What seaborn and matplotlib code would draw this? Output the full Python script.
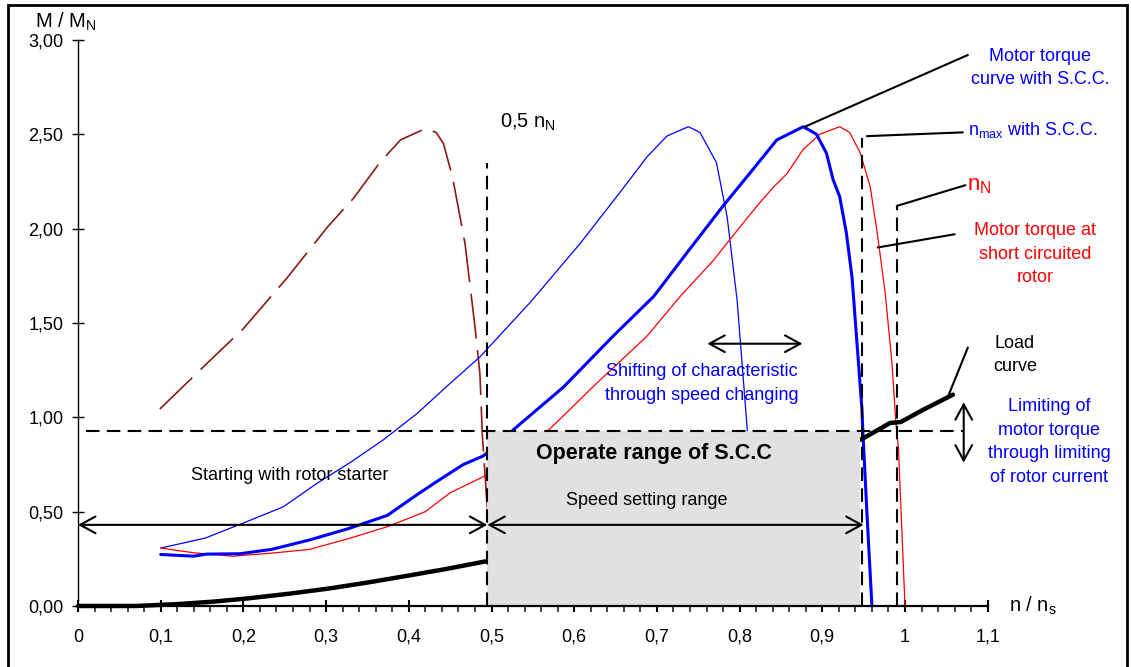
import numpy as np
import pandas as pd
import matplotlib
matplotlib.use("Agg")
import matplotlib.pyplot as plt
from matplotlib.patches import Rectangle
import seaborn as sns

# ---------------- data ----------------
thin_blue_x = [0.100, 0.154, 0.200, 0.248, 0.289, 0.329, 0.369, 0.410, 0.450, 0.486, 0.547, 0.607,
               0.655, 0.688, 0.712, 0.738, 0.752, 0.772, 0.785, 0.797, 0.809, 0.820]
thin_blue_y = [0.307, 0.36, 0.44, 0.525, 0.65, 0.76, 0.88, 1.02, 1.18, 1.32, 1.61, 1.92,
               2.19, 2.38, 2.49, 2.54, 2.51, 2.35, 2.06, 1.62, 0.95, 0.00]

thick_blue_x = [0.100, 0.140, 0.155, 0.196, 0.234, 0.280, 0.327, 0.374, 0.410, 0.434, 0.466, 0.490,
                0.528, 0.587, 0.647, 0.696, 0.736, 0.780, 0.808, 0.845, 0.877, 0.893, 0.905, 0.913,
                0.921, 0.929, 0.936, 0.942, 0.948, 0.949, 0.954, 0.960]
thick_blue_y = [0.273, 0.264, 0.275, 0.277, 0.30, 0.35, 0.41, 0.48, 0.59, 0.66, 0.75, 0.795,
                0.94, 1.16, 1.43, 1.64, 1.87, 2.12, 2.27, 2.47, 2.54, 2.50, 2.40, 2.26,
                2.17, 1.98, 1.74, 1.39, 1.04, 0.93, 0.49, 0.00]

red_x = [0.100, 0.140, 0.187, 0.234, 0.280, 0.327, 0.374, 0.420, 0.450, 0.490, 0.571, 0.627,
         0.688, 0.728, 0.768, 0.808, 0.825, 0.841, 0.857, 0.877, 0.897, 0.921, 0.933, 0.946,
         0.958, 0.967, 0.976, 0.984, 0.989, 0.992, 1.000]
red_y = [0.307, 0.282, 0.264, 0.28, 0.30, 0.357, 0.42, 0.50, 0.60, 0.685, 0.94, 1.18,
         1.43, 1.64, 1.83, 2.05, 2.14, 2.22, 2.29, 2.42, 2.50, 2.54, 2.51, 2.40,
         2.22, 1.96, 1.66, 1.30, 0.97, 0.84, 0.00]

starter_x = [0.099, 0.157, 0.200, 0.253, 0.302, 0.333, 0.365, 0.390, 0.420, 0.433, 0.442, 0.453,
             0.468, 0.480, 0.486, 0.489, 0.503]
starter_y = [1.044, 1.29, 1.47, 1.74, 2.01, 2.16, 2.35, 2.47, 2.53, 2.51, 2.45, 2.27,
             1.92, 1.48, 1.23, 0.90, 0.00]

load_x = [0.000, 0.070, 0.120, 0.163, 0.205, 0.257, 0.304, 0.351, 0.398, 0.445, 0.497,
          0.948, 0.982, 0.995, 1.022, 1.058]
load_y = [0.00, 0.00, 0.01, 0.023, 0.04, 0.066, 0.093, 0.125, 0.16, 0.196, 0.24,
          0.885, 0.97, 0.975, 1.04, 1.12]

xtick_vals = [0, 0.1, 0.2, 0.3, 0.4, 0.5, 0.6, 0.7, 0.8, 0.9, 1.0, 1.1]
xtick_labels = ["0", "0,1", "0,2", "0,3", "0,4", "0,5", "0,6", "0,7", "0,8", "0,9", "1", "1,1"]
ytick_vals = [0, 0.5, 1.0, 1.5, 2.0, 2.5, 3.0]
ytick_labels = ["0,00", "0,50", "1,00", "1,50", "2,00", "2,50", "3,00"]

# operating range box and reference lines
box_x = [0.495, 0.945]
box_top = 0.93
vlines_x = [0.495, 0.948, 0.990]
vlines_top = [2.35, 2.48, 2.12]
hline_y = 0.93
hline_span = [0.01, 1.07]

# leader lines (start -> end)
leaders = [
    ([0.879, 1.076], [2.54, 2.92]),
    ([0.954, 1.070], [2.49, 2.51]),
    ([0.990, 1.073], [2.12, 2.23]),
    ([0.967, 1.060], [1.90, 1.97]),
    ([1.052, 1.076], [1.11, 1.37]),
]

# ---------------- style ----------------
sns.set_style("white")
plt.rcParams["font.family"] = ["Liberation Sans", "DejaVu Sans"]
plt.rcParams["mathtext.fontset"] = "custom"
plt.rcParams["mathtext.rm"] = "Liberation Sans"
plt.rcParams["text.color"] = "black"

fig = plt.figure(figsize=(11.31, 6.67), dpi=100)
ax = fig.add_axes([0, 0, 1, 1])
ax.set_xlim(-78 / 827, (1131 - 78) / 827)
ax.set_ylim(-61 / 188.7, 606 / 188.7)
ax.patch.set_alpha(0)

# curves
sns.lineplot(x=starter_x, y=starter_y, ax=ax, color="#8B1A1A", lw=1.2,
             linestyle=(0, (27, 7)), estimator=None, sort=False, zorder=2)
sns.lineplot(x=thin_blue_x, y=thin_blue_y, ax=ax, color="blue", lw=0.9,
             estimator=None, sort=False, zorder=2)
sns.lineplot(x=red_x, y=red_y, ax=ax, color="red", lw=0.9,
             estimator=None, sort=False, zorder=2)
sns.lineplot(x=thick_blue_x, y=thick_blue_y, ax=ax, color="blue", lw=2.2,
             estimator=None, sort=False, zorder=2)
sns.lineplot(x=load_x, y=load_y, ax=ax, color="black", lw=3.2,
             estimator=None, sort=False, zorder=2)

# grey box (covers curves)
ax.add_patch(Rectangle((box_x[0], 0), box_x[1] - box_x[0], box_top,
                       facecolor="#e1e1e1", edgecolor="none", zorder=2.3))

# dashed reference lines
for xv, top in zip(vlines_x, vlines_top):
    ax.plot([xv, xv], [0, top], color="black", lw=1.5, linestyle=(0, (6.5, 3.5)), zorder=3)
ax.plot(hline_span, [hline_y, hline_y], color="black", lw=1.5,
        linestyle=(0, (6.5, 3.5)), zorder=3)

for lx, ly in leaders:
    ax.plot(lx, ly, color="black", lw=1.5, zorder=3)

# arrows
arrow_kw = dict(arrowstyle="<->,head_length=0.55,head_width=0.3", color="black",
                lw=1.5, shrinkA=0, shrinkB=0, mutation_scale=20)
ax.annotate("", xy=(0.0, 0.43), xytext=(0.495, 0.43), arrowprops=arrow_kw, zorder=4)
ax.annotate("", xy=(0.495, 0.43), xytext=(0.950, 0.43), arrowprops=arrow_kw, zorder=4)
ax.annotate("", xy=(0.761, 1.39), xytext=(0.876, 1.39), arrowprops=arrow_kw, zorder=4)
ax.annotate("", xy=(1.071, 1.08), xytext=(1.071, 0.76), arrowprops=arrow_kw, zorder=4)

# axes
for s in ["top", "right"]:
    ax.spines[s].set_visible(False)
ax.spines["left"].set_position(("data", 0))
ax.spines["bottom"].set_position(("data", 0))
ax.spines["left"].set_bounds(0, 3)
ax.spines["bottom"].set_bounds(0, 1.1)
ax.spines["left"].set_color("black")
ax.spines["bottom"].set_color("black")
ax.spines["left"].set_linewidth(1.0)
ax.spines["bottom"].set_linewidth(1.6)
ax.spines["left"].set_zorder(3.5)
ax.spines["bottom"].set_zorder(3.5)

ax.set_xticks(xtick_vals)
ax.set_xticklabels(xtick_labels)
ax.set_xticks(np.arange(0, 1.1001, 0.02), minor=True)
ax.set_yticks(ytick_vals)
ax.set_yticklabels(ytick_labels)
ax.tick_params(axis="x", which="major", bottom=True, direction="inout", length=9,
               width=1.5, labelsize=13, pad=12, colors="black")
ax.tick_params(axis="x", which="minor", bottom=True, direction="out", length=4, width=1.2)
ax.tick_params(axis="y", which="major", left=True, direction="inout", length=9,
               width=1.0, labelsize=13, pad=6, colors="black")

# texts
LS = 1.5
ax.text(-0.052, 3.095, r"M / M$_\mathregular{N}$", fontsize=14.5, va="center", ha="left")
ax.text(1.126, 0.0, r"n / n$_\mathregular{s}$", fontsize=14.5, va="center", ha="left")
ax.text(0.510, 2.565, r"0,5 n$_\mathregular{N}$", fontsize=14.5, va="center", ha="left")
ax.text(1.163, 2.85, "Motor torque\ncurve with S.C.C.", color="blue", fontsize=13,
        ha="center", va="center", linespacing=LS)
ax.text(1.076, 2.52, r"n$_\mathregular{max}$ with S.C.C.", color="blue", fontsize=13,
        va="center", ha="left")
ax.text(1.075, 2.23, r"n$_\mathregular{N}$", color="red", fontsize=16, va="center", ha="left")
ax.text(1.157, 1.865, "Motor torque at\nshort circuited\nrotor", color="red", fontsize=13,
        ha="center", va="center", linespacing=LS)
ax.text(1.133, 1.33, "Load\ncurve", fontsize=13, ha="center", va="center", linespacing=LS)
ax.text(1.174, 0.87, "Limiting of\nmotor torque\nthrough limiting\nof rotor current",
        color="blue", fontsize=13, ha="center", va="center", linespacing=LS)
ax.text(0.754, 1.18, "Shifting of characteristic\nthrough speed changing", color="blue",
        fontsize=13, ha="center", va="center", linespacing=LS)
ax.text(0.696, 0.81, "Operate range of S.C.C", fontsize=15.5, fontweight="bold",
        ha="center", va="center", zorder=5)
ax.text(0.688, 0.56, "Speed setting range", fontsize=13, ha="center", va="center", zorder=5)
ax.text(0.256, 0.694, "Starting with rotor starter", fontsize=13, ha="center", va="center")

# figure border
fig.patches.append(Rectangle((8 / 1131, -0.01), (1127 - 8) / 1131, 1 - 5 / 667 + 0.01,
                             transform=fig.transFigure, fill=False, lw=2, ec="black"))

fig.savefig("out.png", dpi=100)
